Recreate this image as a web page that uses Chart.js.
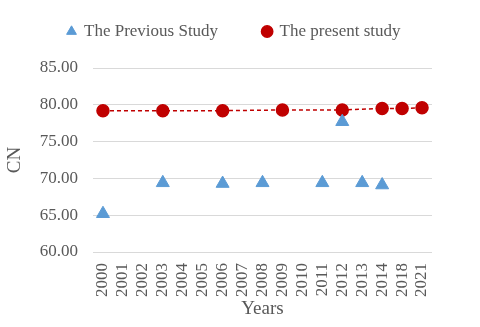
<!DOCTYPE html>
<html>
<head>
<meta charset="utf-8">
<script src="https://cdn.jsdelivr.net/npm/chart.js@4"></script>
<style>
  html, body { margin: 0; padding: 0; background: #ffffff; }
  #wrap { width: 480px; height: 327px; }
</style>
</head>
<body>
<div id="wrap"><canvas id="cnChart" width="480" height="327"></canvas></div>
<script>
// ---- data ----
var years = ['2000', '2001', '2002', '2003', '2004', '2005', '2006', '2007', '2008',
             '2009', '2010', '2011', '2012', '2013', '2014', '2018', '2021'];
var previousStudy = [65.2, null, null, 69.4, null, null, 69.3, null, 69.4,
                     null, null, 69.4, 77.7, 69.4, 69.1, null, null];
var presentStudy = [79.2, null, null, 79.2, null, null, 79.2, null, null,
                    79.3, null, null, 79.3, null, 79.5, 79.5, 79.6];
var yTicks = [60, 65, 70, 75, 80, 85];

(function () {
    var canvas = document.getElementById('cnChart');
    var ctx = canvas.getContext('2d');
    var serif = "'Liberation Serif', 'Times New Roman', serif";
    var grey = '#595959';

    // legend: fixed height so the plot starts where it does in the figure,
    // and nudged right like the original
    var legendFix = {
        id: 'legendFix',
        beforeLayout: function (chart) {
            var lg = chart.legend;
            if (lg && !lg._fixed) {
                var fit = lg.fit;
                lg.fit = function () {
                    fit.call(this);
                    this.height = 90;
                };
                lg._fixed = true;
            }
        },
        afterLayout: function (chart) {
            if (chart.legend) {
                chart.legend.left += 16;
                chart.legend.right += 16;
            }
        }
    };

    new Chart(ctx, {
        type: 'line',
        data: {
            labels: years,
            datasets: [{
                label: 'The Previous Study',
                data: previousStudy,
                showLine: false,
                pointStyle: 'triangle',
                pointRadius: 7.5,
                pointBackgroundColor: '#5B9BD5',
                pointBorderColor: '#5B9BD5',
                backgroundColor: '#5B9BD5',
                borderColor: '#5B9BD5'
            }, {
                label: 'The present study',
                data: presentStudy,
                spanGaps: true,
                borderColor: '#C00000',
                borderWidth: 1.5,
                borderDash: [4, 3],
                pointStyle: 'circle',
                pointRadius: 6,
                pointBackgroundColor: '#C00000',
                pointBorderColor: '#C00000',
                backgroundColor: '#C00000'
            }]
        },
        options: {
            responsive: false,
            animation: false,
            layout: { padding: { left: 4, right: 48, top: -22, bottom: 8 } },
            plugins: {
                legend: {
                    position: 'top',
                    labels: {
                        usePointStyle: true,
                        boxWidth: 8,
                        boxHeight: 8,
                        padding: 45,
                        color: grey,
                        font: { family: serif, size: 17 }
                    }
                },
                tooltip: { enabled: false }
            },
            scales: {
                x: {
                    offset: true,
                    grid: { display: false },
                    border: { display: false },
                    ticks: {
                        color: grey,
                        font: { family: serif, size: 17 },
                        maxRotation: 90,
                        minRotation: 90,
                        autoSkip: false,
                        padding: 3
                    },
                    title: {
                        display: true,
                        text: 'Years',
                        color: grey,
                        font: { family: serif, size: 19, lineHeight: 1 },
                        padding: { top: 0, bottom: 0 }
                    }
                },
                y: {
                    min: 60,
                    max: 85,
                    afterBuildTicks: function (axis) {
                        axis.ticks = yTicks.map(function (v) { return { value: v }; });
                    },
                    afterFit: function (axis) {
                        axis.width = 89;
                    },
                    grid: { color: '#d9d9d9', lineWidth: 1, drawTicks: false },
                    border: { display: false },
                    ticks: {
                        color: grey,
                        font: { family: serif, size: 17 },
                        padding: 15,
                        callback: function (v) { return Number(v).toFixed(2); }
                    },
                    title: {
                        display: true,
                        text: 'CN',
                        color: grey,
                        font: { family: serif, size: 19 },
                        padding: { top: 0, bottom: 2 }
                    }
                }
            }
        },
        plugins: [legendFix]
    });
})();
</script>
</body>
</html>
